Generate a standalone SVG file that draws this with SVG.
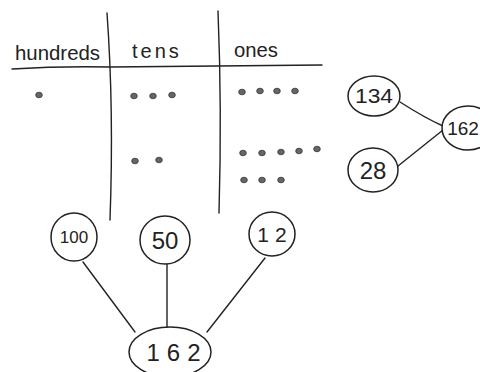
<svg xmlns="http://www.w3.org/2000/svg" width="480" height="372" viewBox="0 0 480 372">
<style>
.ln{fill:none;stroke:#222;stroke-width:1.4;stroke-linecap:round}
.nd{fill:#fff;stroke:#222;stroke-width:1.5}
.dot{fill:#666;stroke:#333;stroke-width:0.8}
.hd{font-family:"Liberation Sans",Arial,sans-serif;font-size:20px;fill:#222}
.num{font-family:"Liberation Sans",Arial,sans-serif;fill:#222;text-anchor:middle}
</style>
<rect width="480" height="372" fill="#fff"/>
<g id="table">
<path class="ln" d="M107,13 Q114,110 110,220"/>
<path class="ln" d="M218,11 Q222,110 219,213"/>
<path class="ln" d="M12,69 Q60,66 110,67 L322,65"/>
<text class="hd" x="15" y="60" textLength="85" lengthAdjust="spacingAndGlyphs">hundreds</text>
<text class="hd" x="132" y="58" style="letter-spacing:3px">tens</text>
<text class="hd" x="234" y="57" textLength="44" lengthAdjust="spacingAndGlyphs">ones</text>
<ellipse class="dot" cx="39" cy="95" rx="3.3" ry="2.8"/>
<ellipse class="dot" cx="134" cy="96" rx="3.3" ry="2.8"/>
<ellipse class="dot" cx="153" cy="96" rx="3.3" ry="2.8"/>
<ellipse class="dot" cx="172" cy="95" rx="3.3" ry="2.8"/>
<ellipse class="dot" cx="135" cy="161" rx="3.3" ry="2.8"/>
<ellipse class="dot" cx="159" cy="160" rx="3.3" ry="2.8"/>
<ellipse class="dot" cx="242" cy="92" rx="3.3" ry="2.8"/>
<ellipse class="dot" cx="260" cy="91" rx="3.3" ry="2.8"/>
<ellipse class="dot" cx="277" cy="91" rx="3.3" ry="2.8"/>
<ellipse class="dot" cx="295" cy="91" rx="3.3" ry="2.8"/>
<ellipse class="dot" cx="243" cy="153" rx="3.3" ry="2.8"/>
<ellipse class="dot" cx="262" cy="153" rx="3.3" ry="2.8"/>
<ellipse class="dot" cx="281" cy="152" rx="3.3" ry="2.8"/>
<ellipse class="dot" cx="299" cy="151" rx="3.3" ry="2.8"/>
<ellipse class="dot" cx="317" cy="149" rx="3.3" ry="2.8"/>
<ellipse class="dot" cx="244" cy="180" rx="3.3" ry="2.8"/>
<ellipse class="dot" cx="262" cy="180" rx="3.3" ry="2.8"/>
<ellipse class="dot" cx="281" cy="180" rx="3.3" ry="2.8"/>
</g>
<g id="connectors">
<path class="ln" d="M400,102 Q425,118 443,126"/>
<path class="ln" d="M398,166 L443,130"/>
<path class="ln" d="M83,262 L135,332"/>
<path class="ln" d="M167,264 L167,327"/>
<path class="ln" d="M265,258 L207,332"/>
</g>
<g id="n134"><ellipse class="nd" cx="374" cy="96" rx="26" ry="20"/><text class="num" x="374" y="103" style="font-size:20px" textLength="38" lengthAdjust="spacingAndGlyphs">134</text></g>
<g id="n28"><ellipse class="nd" cx="373" cy="170" rx="25" ry="22"/><text class="num" x="373" y="179" style="font-size:24px">28</text></g>
<g id="n162r"><ellipse class="nd" cx="468" cy="128" rx="26" ry="22"/><text class="num" x="463" y="135" style="font-size:19px">162</text></g>
<g id="n100"><ellipse class="nd" cx="74" cy="237" rx="23" ry="24"/><text class="num" x="74" y="243" style="font-size:17px">100</text></g>
<g id="n50"><ellipse class="nd" cx="165" cy="240" rx="25" ry="24"/><text class="num" x="165" y="249" style="font-size:24px">50</text></g>
<g id="n12"><ellipse class="nd" cx="272" cy="234" rx="23" ry="22"/><text class="num" x="275" y="242" style="font-size:21px;letter-spacing:6px">12</text></g>
<g id="n162"><ellipse class="nd" cx="170" cy="352" rx="41" ry="25"/><text class="num" x="177" y="361" style="font-size:24px;letter-spacing:7px">162</text></g>
</svg>
